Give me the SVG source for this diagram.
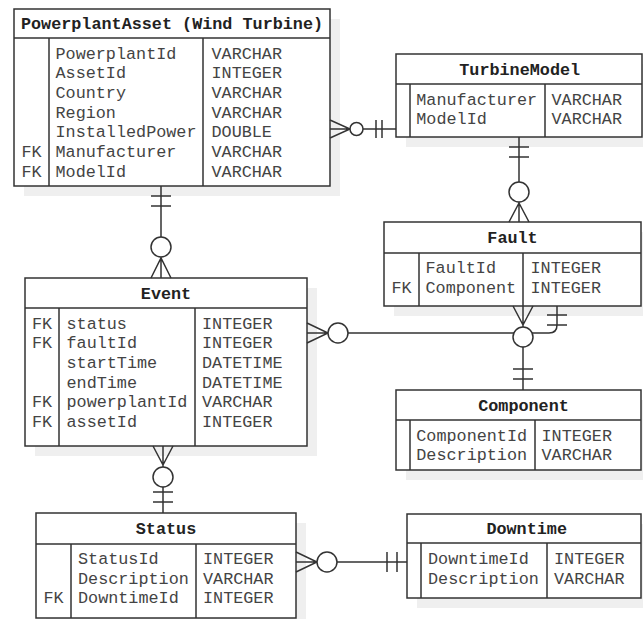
<svg xmlns="http://www.w3.org/2000/svg" width="643" height="619" viewBox="0 0 643 619">
  <style>
    .sh{fill:#efefef}
    .box{fill:#fff;stroke:#333;stroke-width:1.5}
    .ln{stroke:#333;stroke-width:1.5;fill:none}
    .mk{stroke:#333;stroke-width:1.5;fill:#fff}
    .t{font-family:"Liberation Mono","Courier New",monospace;font-size:16.8px;fill:#444}
    .h{font-weight:bold;text-anchor:middle;fill:#222}
    .fk{text-anchor:middle}
  </style>
  <rect width="643" height="619" fill="#fff"/>

  <g id="powerplantAsset">
    <rect class="sh" x="24" y="19" width="316" height="177"/>
    <rect class="box" x="14" y="9" width="316" height="177"/>
    <path class="ln" d="M14,38H330M49,38V186M203,38V186"/>
    <text class="t h" x="172" y="29">PowerplantAsset (Wind Turbine)</text>
    <text class="t" x="55.5" y="58.5">PowerplantId</text>
    <text class="t" x="55.5" y="78.2">AssetId</text>
    <text class="t" x="55.5" y="97.9">Country</text>
    <text class="t" x="55.5" y="117.6">Region</text>
    <text class="t" x="55.5" y="137.3">InstalledPower</text>
    <text class="t" x="55.5" y="157">Manufacturer</text>
    <text class="t" x="55.5" y="176.7">ModelId</text>
    <text class="t fk" x="31.5" y="157">FK</text>
    <text class="t fk" x="31.5" y="176.7">FK</text>
    <text class="t" x="211.5" y="58.5">VARCHAR</text>
    <text class="t" x="211.5" y="78.2">INTEGER</text>
    <text class="t" x="211.5" y="97.9">VARCHAR</text>
    <text class="t" x="211.5" y="117.6">VARCHAR</text>
    <text class="t" x="211.5" y="137.3">DOUBLE</text>
    <text class="t" x="211.5" y="157">VARCHAR</text>
    <text class="t" x="211.5" y="176.7">VARCHAR</text>
  </g>

  <g id="turbineModel">
    <rect class="sh" x="406" y="64" width="246" height="83"/>
    <rect class="box" x="396" y="54" width="246" height="83"/>
    <path class="ln" d="M396,84H642M410,84V137M545,84V137"/>
    <text class="t h" x="519.7" y="74.5">TurbineModel</text>
    <text class="t" x="416.3" y="104.5">Manufacturer</text>
    <text class="t" x="416.3" y="124.2">ModelId</text>
    <text class="t" x="551.5" y="104.5">VARCHAR</text>
    <text class="t" x="551.5" y="124.2">VARCHAR</text>
  </g>

  <g id="fault">
    <rect class="sh" x="394" y="232" width="257" height="84"/>
    <rect class="box" x="384" y="222" width="257" height="84"/>
    <path class="ln" d="M384,253H641M419,253V306M523,253V306"/>
    <text class="t h" x="512.5" y="243">Fault</text>
    <text class="t" x="425.5" y="273">FaultId</text>
    <text class="t" x="425.5" y="292.7">Component</text>
    <text class="t fk" x="401.5" y="292.7">FK</text>
    <text class="t" x="530.5" y="273">INTEGER</text>
    <text class="t" x="530.5" y="292.7">INTEGER</text>
  </g>

  <g id="event">
    <rect class="sh" x="35" y="288" width="282" height="168"/>
    <rect class="box" x="25" y="278" width="282" height="168"/>
    <path class="ln" d="M25,308H307M59,308V446M195,308V446"/>
    <text class="t h" x="166" y="298.5">Event</text>
    <text class="t fk" x="42" y="328.5">FK</text>
    <text class="t fk" x="42" y="348.2">FK</text>
    <text class="t fk" x="42" y="407.3">FK</text>
    <text class="t fk" x="42" y="427">FK</text>
    <text class="t" x="66.5" y="328.5">status</text>
    <text class="t" x="66.5" y="348.2">faultId</text>
    <text class="t" x="66.5" y="367.9">startTime</text>
    <text class="t" x="66.5" y="387.6">endTime</text>
    <text class="t" x="66.5" y="407.3">powerplantId</text>
    <text class="t" x="66.5" y="427">assetId</text>
    <text class="t" x="202" y="328.5">INTEGER</text>
    <text class="t" x="202" y="348.2">INTEGER</text>
    <text class="t" x="202" y="367.9">DATETIME</text>
    <text class="t" x="202" y="387.6">DATETIME</text>
    <text class="t" x="202" y="407.3">VARCHAR</text>
    <text class="t" x="202" y="427">INTEGER</text>
  </g>

  <g id="component">
    <rect class="sh" x="406" y="400" width="245" height="80"/>
    <rect class="box" x="396" y="390" width="245" height="80"/>
    <path class="ln" d="M396,420H641M410,420V470M535,420V470"/>
    <text class="t h" x="523.5" y="410.5">Component</text>
    <text class="t" x="416.3" y="440.5">ComponentId</text>
    <text class="t" x="416.3" y="460.2">Description</text>
    <text class="t" x="541.5" y="440.5">INTEGER</text>
    <text class="t" x="541.5" y="460.2">VARCHAR</text>
  </g>

  <g id="status">
    <rect class="sh" x="46" y="523" width="260" height="105"/>
    <rect class="box" x="36" y="513" width="260" height="105"/>
    <path class="ln" d="M36,544H296M71,544V618M196,544V618"/>
    <text class="t h" x="166" y="534">Status</text>
    <text class="t" x="78" y="563.8">StatusId</text>
    <text class="t" x="78" y="583.5">Description</text>
    <text class="t" x="78" y="603.2">DowntimeId</text>
    <text class="t fk" x="53.5" y="603.2">FK</text>
    <text class="t" x="203" y="563.8">INTEGER</text>
    <text class="t" x="203" y="583.5">VARCHAR</text>
    <text class="t" x="203" y="603.2">INTEGER</text>
  </g>

  <g id="downtime">
    <rect class="sh" x="417" y="524" width="234" height="84"/>
    <rect class="box" x="407" y="514" width="234" height="84"/>
    <path class="ln" d="M407,543H641M421,543V598M547,543V598"/>
    <text class="t h" x="526.7" y="534">Downtime</text>
    <text class="t" x="428" y="564">DowntimeId</text>
    <text class="t" x="428" y="583.7">Description</text>
    <text class="t" x="554" y="564">INTEGER</text>
    <text class="t" x="554" y="583.7">VARCHAR</text>
  </g>

  <g id="connectors">
    <!-- PowerplantAsset to TurbineModel -->
    <path class="ln" d="M330,129H396M330,120L350,129L330,138M376,120V138M382,120V138"/>
    <circle class="mk" cx="356.5" cy="129" r="6.5"/>
    <!-- PowerplantAsset to Event -->
    <path class="ln" d="M161,186V278M151,196H171M151,206H171M151,278L161,258L171,278"/>
    <circle class="mk" cx="161" cy="247" r="10"/>
    <!-- TurbineModel to Fault -->
    <path class="ln" d="M519,137V222M509,147H529M509,157H529M509,222L519,203L529,222"/>
    <circle class="mk" cx="519" cy="192" r="10"/>
    <!-- Event to Fault -->
    <path class="ln" d="M307,333H549Q557,333 557,325V306M307,323L328,333L307,343M547,315H567M547,325H567"/>
    <circle class="mk" cx="338" cy="333" r="10"/>
    <!-- Fault to Component -->
    <path class="ln" d="M523,306V390M513,306L523,325L533,306M513,369H533M513,379H533"/>
    <circle class="mk" cx="523" cy="337" r="10"/>
    <!-- Event to Status -->
    <path class="ln" d="M163,446V513M153,446L163,465L173,446M153,492H173M153,502H173"/>
    <circle class="mk" cx="163" cy="477" r="10"/>
    <!-- Status to Downtime -->
    <path class="ln" d="M296,562H407M296,552L317,562L296,572M387,552V572M397,552V572"/>
    <circle class="mk" cx="327" cy="562" r="10"/>
  </g>
</svg>
